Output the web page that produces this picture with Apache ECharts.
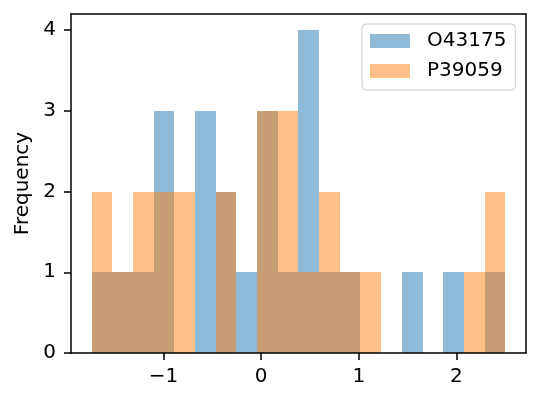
<!DOCTYPE html>
<html>
<head>
<meta charset="utf-8">
<script src="https://cdn.jsdelivr.net/npm/echarts@6/dist/echarts.min.js"></script>
<style>html,body{margin:0;padding:0;background:#fff}#c{width:540px;height:403px}</style>
</head>
<body>
<div id="c"></div>
<script>
// Shared histogram bin edges (20 bins)
const binEdges = [-1.735, -1.523, -1.311, -1.100, -0.888, -0.676, -0.464, -0.253, -0.041, 0.171,
  0.382, 0.594, 0.806, 1.017, 1.229, 1.441, 1.653, 1.864, 2.076, 2.288, 2.500];
const seriesNames = ['O43175', 'P39059'];
const o43175Counts = [1, 1, 1, 3, 0, 3, 2, 1, 3, 1, 4, 1, 1, 0, 0, 1, 0, 1, 0, 1];
const p39059Counts = [2, 1, 2, 2, 2, 0, 2, 0, 3, 3, 1, 2, 1, 1, 0, 0, 0, 0, 1, 2];
const xTicks = [-1, 0, 1, 2];
const yTicks = [0, 1, 2, 3, 4];

const FONT = 'DejaVu Sans';
function toData(counts) {
  return counts.map((c, i) => [binEdges[i], binEdges[i + 1], c]);
}
function makeSeries(name, counts, color) {
  return {
    name: name,
    type: 'custom',
    itemStyle: {color: color, opacity: 0.5},
    data: toData(counts),
    encode: {x: [0, 1], y: 2},
    renderItem: function (params, api) {
      const c = api.value(2);
      if (!c) return null;
      const p0 = api.coord([api.value(0), c]);
      const p1 = api.coord([api.value(1), 0]);
      const x0 = Math.round(p0[0]), x1 = Math.round(p1[0]);
      const y0 = Math.round(p0[1]), y1 = Math.round(p1[1]);
      return {
        type: 'rect',
        shape: {x: x0, y: y0, width: x1 - x0, height: y1 - y0},
        style: {fill: color, opacity: 0.5}
      };
    }
  };
}
const fmt = v => (v < 0 ? '\u2212' + Math.abs(v) : String(v));
const chart = echarts.init(document.getElementById('c'), null, {renderer: 'canvas'});
const lineStyle = {color: '#000', width: 1.5};
chart.setOption({
  animation: false,
  backgroundColor: '#fff',
  grid: {left: 71, right: 14, top: 14, bottom: 50},
  legend: {
    orient: 'vertical', left: 362, top: 24,
    padding: [7, 9, 9, 8],
    borderColor: '#cccccc', borderWidth: 1, borderRadius: 4,
    backgroundColor: 'rgba(255,255,255,0.8)',
    itemWidth: 40, itemHeight: 14, itemGap: 10,
    icon: 'rect',
    textStyle: {fontFamily: FONT, fontSize: 20, color: '#000', lineHeight: 20, padding: [0, 0, 0, 12]},
    data: [
      {name: seriesNames[0], itemStyle: {color: '#8fbbd9', opacity: 1}},
      {name: seriesNames[1], itemStyle: {color: '#ffbf86', opacity: 1}}
    ]
  },
  xAxis: [{
    type: 'value', min: -1.947, max: 2.712, z: 10,
    axisLine: {show: true, onZero: false, lineStyle: lineStyle},
    axisTick: {show: true, length: 7, lineStyle: lineStyle, customValues: xTicks},
    axisLabel: {fontFamily: FONT, fontSize: 20, color: '#000', margin: 14, customValues: xTicks, formatter: fmt},
    splitLine: {show: false}
  }, {
    type: 'value', position: 'top', min: -1.947, max: 2.712, z: 10,
    axisLine: {show: true, onZero: false, lineStyle: lineStyle},
    axisTick: {show: false}, axisLabel: {show: false}, splitLine: {show: false}
  }],
  yAxis: [{
    type: 'value', min: 0, max: 4.2, z: 10,
    name: 'Frequency', nameLocation: 'middle', nameGap: 38,
    nameTextStyle: {fontFamily: FONT, fontSize: 20, color: '#000'},
    axisLine: {show: true, onZero: false, lineStyle: lineStyle},
    axisTick: {show: true, length: 7, lineStyle: lineStyle, customValues: yTicks},
    axisLabel: {fontFamily: FONT, fontSize: 20, color: '#000', margin: 15, customValues: yTicks},
    splitLine: {show: false}
  }, {
    type: 'value', position: 'right', min: 0, max: 4.2, z: 10,
    axisLine: {show: true, onZero: false, lineStyle: lineStyle},
    axisTick: {show: false}, axisLabel: {show: false}, splitLine: {show: false}
  }],
  series: [
    makeSeries(seriesNames[0], o43175Counts, '#1f77b4'),
    makeSeries(seriesNames[1], p39059Counts, '#ff7f0e')
  ]
});
</script>
</body>
</html>
